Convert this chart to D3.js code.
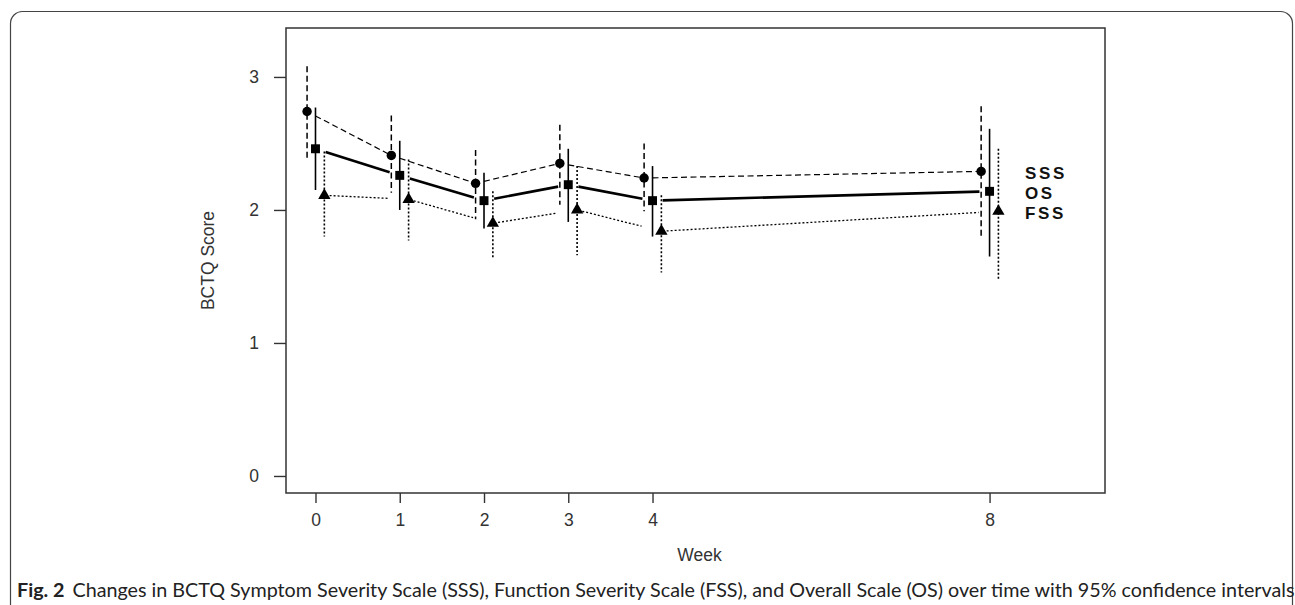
<!DOCTYPE html>
<html>
<head>
<meta charset="utf-8">
<script src="https://cdn.jsdelivr.net/npm/d3@7"></script>
<style>
  html, body { margin: 0; padding: 0; background: #fff; }
  svg { display: block; }
</style>
</head>
<body>
<div id="chart"></div>
<script>
// BCTQ scores by week, with 95% CI
const weeks = [0, 1, 2, 3, 4, 8];
const sss   = [2.74, 2.41, 2.20, 2.35, 2.24, 2.29];
const sssLo = [2.38, 2.13, 1.93, 2.04, 1.99, 1.79];
const sssHi = [3.08, 2.71, 2.45, 2.64, 2.50, 2.78];
const os    = [2.46, 2.26, 2.07, 2.19, 2.07, 2.14];
const osLo  = [2.15, 2.00, 1.86, 1.91, 1.80, 1.65];
const osHi  = [2.77, 2.52, 2.28, 2.46, 2.33, 2.61];
const fss   = [2.11, 2.08, 1.90, 2.00, 1.84, 1.99];
const fssLo = [1.80, 1.77, 1.64, 1.66, 1.53, 1.47];
const fssHi = [2.44, 2.38, 2.14, 2.33, 2.11, 2.46];
const yTicks = [0, 1, 2, 3];
const seriesNames = ['SSS', 'OS', 'FSS'];
const caption = 'Changes in BCTQ Symptom Severity Scale (SSS), Function Severity Scale (FSS), and Overall Scale (OS) over time with 95% confidence intervals';

const W = 1295, H = 605;
const box = { left: 286, right: 1105, top: 28, bottom: 493 };

const svg = d3.select('#chart').append('svg').attr('width', W).attr('height', H);

// outer figure frame (open at the bottom, runs off the page)
svg.append('rect')
  .attr('x', 10.5).attr('y', 11.5).attr('width', 1282).attr('height', 640)
  .attr('rx', 12).attr('fill', 'none').attr('stroke', '#444').attr('stroke-width', 1.2);

const x = d3.scaleLinear().domain([-0.35, 9.37]).range([box.left, box.right]);
const y = d3.scaleLinear().domain([-0.128, 3.368]).range([box.bottom, box.top]);

// plot box
svg.append('rect')
  .attr('x', box.left).attr('y', box.top)
  .attr('width', box.right - box.left).attr('height', box.bottom - box.top)
  .attr('fill', 'none').attr('stroke', '#333').attr('stroke-width', 1.5);

// axes
const yAxis = svg.append('g').attr('transform', `translate(${box.left},0)`)
  .call(d3.axisLeft(y).tickValues(yTicks).tickSize(12).tickPadding(15).tickFormat(d3.format('d')));
const xAxis = svg.append('g').attr('transform', `translate(0,${box.bottom})`)
  .call(d3.axisBottom(x).tickValues(weeks).tickSize(10).tickPadding(11).tickFormat(d3.format('d')));
[yAxis, xAxis].forEach(a => {
  a.select('.domain').remove();
  a.selectAll('line').attr('stroke', '#333').attr('stroke-width', 1.4);
  a.selectAll('text').attr('fill', '#333').attr('font-family', 'Liberation Sans, Arial, sans-serif').attr('font-size', 17.5);
});

svg.append('text')
  .attr('transform', `translate(214,${(box.top + box.bottom) / 2}) rotate(-90)`)
  .attr('text-anchor', 'middle')
  .attr('font-family', 'Liberation Sans, Arial, sans-serif').attr('font-size', 17.5).attr('fill', '#333')
  .text('BCTQ Score');
svg.append('text')
  .attr('x', (box.left + box.right) / 2 + 4).attr('y', 561)
  .attr('text-anchor', 'middle')
  .attr('font-family', 'Liberation Sans, Arial, sans-serif').attr('font-size', 17.5).attr('fill', '#333')
  .text('Week');

// series: mean line with gaps round the CI bars, CI bar, marker
const series = [
  { v: sss, lo: sssLo, hi: sssHi, off: -0.1,  a: 0.0,  b: 0.14, w: 1.2, dash: '6,3.5', ciW: 1.5, sym: d3.symbolCircle,   size: 70 },
  { v: os,  lo: osLo,  hi: osHi,  off: 0,     a: 0.12, b: 0.12, w: 2.6, dash: null,    ciW: 1.6, sym: d3.symbolSquare,   size: 80 },
  { v: fss, lo: fssLo, hi: fssHi, off: 0.105, a: 0.12, b: 0.13, w: 1.3, dash: '2,2',   ciW: 1.6, sym: d3.symbolTriangle, size: 66 }
];

series.forEach(s => {
  const g = svg.append('g');
  const segs = d3.pairs(weeks.map((wk, i) => ({ wk, xv: wk + s.off, yv: s.v[i] })));
  const interp = (p, q, xv) => p.yv + (q.yv - p.yv) * (xv - p.xv) / (q.xv - p.xv);
  g.selectAll('line.seg').data(segs).join('line')
    .attr('x1', ([p]) => x(p.wk + s.a))
    .attr('y1', ([p, q]) => y(interp(p, q, p.wk + s.a)))
    .attr('x2', ([, q]) => x(q.wk - s.b))
    .attr('y2', ([p, q]) => y(interp(p, q, q.wk - s.b)))
    .attr('stroke', '#000').attr('stroke-width', s.w)
    .attr('stroke-dasharray', s.dash);

  g.selectAll('line.ci').data(weeks).join('line')
    .attr('x1', d => x(d + s.off)).attr('x2', d => x(d + s.off))
    .attr('y1', (d, i) => y(s.hi[i])).attr('y2', (d, i) => y(s.lo[i]))
    .attr('stroke', '#000').attr('stroke-width', s.ciW)
    .attr('stroke-dasharray', s.dash);

  g.selectAll('path').data(weeks).join('path')
    .attr('d', d3.symbol().type(s.sym).size(s.size))
    .attr('transform', (d, i) => `translate(${x(d + s.off)},${y(s.v[i])})`)
    .attr('fill', '#000');
});

// right-hand series labels
svg.append('g').selectAll('text').data(seriesNames).join('text')
  .attr('x', 1025).attr('y', (d, i) => 179 + i * 20.2)
  .attr('font-family', 'Liberation Sans, Arial, sans-serif')
  .attr('font-weight', 'bold').attr('font-size', 17).attr('letter-spacing', 2.6)
  .attr('fill', '#111')
  .text(d => d);

// caption
const cap = svg.append('text')
  .attr('x', 17).attr('y', 597)
  .attr('font-family', 'Lato, "Open Sans", sans-serif').attr('font-size', 16).attr('fill', '#222');
cap.append('tspan').attr('font-weight', 'bold').text('Fig. 2');
cap.append('tspan').attr('dx', 8).text(caption);
const capLen = cap.node().getComputedTextLength();
cap.attr('font-size', 16 * 1270 / capLen);
</script>
</body>
</html>
